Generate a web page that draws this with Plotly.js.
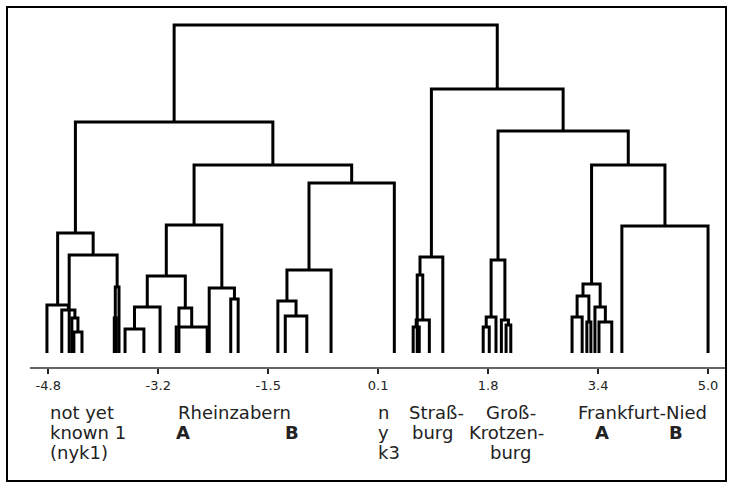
<!DOCTYPE html>
<html><head><meta charset="utf-8">
<script src="https://cdn.plot.ly/plotly-3.0.1.min.js"></script>
<style>
html,body{margin:0;padding:0;background:#fff;}
#wrap{position:relative;width:734px;height:490px;overflow:hidden;}
#chart{width:734px;height:490px;}
#frame{position:absolute;left:6px;top:6px;width:721px;height:476px;border:2px solid #000;box-sizing:border-box;pointer-events:none;}
</style></head><body>
<div id="wrap"><div id="chart"></div><div id="frame"></div></div>
<script>
// Leaf scores on the discriminant axis (left to right)
const leafScore = [-4.82,-4.60,-4.49,-4.45,-4.42,-4.30,-3.82,-3.79,-3.75,-3.66,-3.38,-3.14,-2.90,-2.86,-2.44,-2.41,-2.09,-1.98,
  -1.39,-1.28,-0.96,-0.60,0.34,0.62,0.68,0.71,0.86,1.06,1.66,1.75,1.85,1.93,2.00,2.07,
  2.98,3.13,3.20,3.26,3.32,3.38,3.57,3.72,5.00];
// Merges: children (leaf index, or leafCount + merge index) and fusion height
const mergeLeft  = [4,3,1,0,6,47,2,46, 9,51,12,13,52,16,15,55, 19,18,60,61,58,50, 23,65,24,67, 28,69,32,31,70, 34,36,74,39,38,76,41,79,73,68,64];
const mergeRight = [5,43,44,45,7,8,48,49, 10,11,14,53,54,17,56,57, 20,59,21,22,62,63, 25,26,66,27, 29,30,33,71,72, 35,37,75,40,77,78,42,80,81,82,83];
const mergeHeight= [1.60,2.67,3.28,3.66,2.67,5.03,7.47,9.15, 1.83,3.51,1.98,3.43,5.87,4.12,4.95,9.76, 2.82,3.96,6.33,12.96,14.33,17.61,
  1.98,2.52,5.95,7.32, 1.98,2.74,2.13,2.52,7.09, 2.74,2.36,4.34,2.36,3.51,5.26,9.68,14.33,16.92,20.12,25.0];
const tickValues = [-4.8,-3.167,-1.533,0.1,1.733,3.367,5.0];
const tickLabels = ['-4.8','-3.2','-1.5','0.1','1.8','3.4','5.0'];
const groupLabels = ['not yet','known 1','(nyk1)','Rheinzabern','A','B','n','y','k3','Straß-','burg','Groß-','Krotzen-','burg','Frankfurt-Nied','A','B'];

const nodeX = leafScore.slice();
const nodeH = leafScore.map(()=>0);
const xs = [], ys = [];
for (let k = 0; k < mergeHeight.length; k++) {
  const a = mergeLeft[k], b = mergeRight[k], h = mergeHeight[k];
  xs.push(nodeX[a], nodeX[a], nodeX[b], nodeX[b], null);
  ys.push(nodeH[a], h, h, nodeH[b], null);
  nodeX.push((nodeX[a] + nodeX[b]) / 2);
  nodeH.push(h);
}

const trace = {x: xs, y: ys, type: 'scatter', mode: 'lines', hoverinfo: 'skip',
  line: {color: '#000', width: 3}, cliponaxis: false};

// label placement: [x (axis units), y (paper), xanchor, bold]
const place = [
  [-4.80,-0.128,'left',false],[-4.80,-0.186,'left',false],[-4.80,-0.243,'left',false],
  [-2.90,-0.128,'left',false],[-2.80,-0.186,'center',true],[-1.18,-0.186,'center',true],
  [0.07,-0.128,'left',false],[0.07,-0.186,'left',false],[0.07,-0.243,'left',false],
  [0.53,-0.128,'left',false],[0.58,-0.186,'left',false],
  [2.07,-0.128,'center',false],[2.00,-0.186,'center',false],[2.06,-0.243,'center',false],
  [4.02,-0.128,'center',false],[3.43,-0.186,'center',true],[4.52,-0.186,'center',true]
];
const annotations = groupLabels.map((t,i)=>({
  text: place[i][3] ? '<b>'+t+'</b>' : t,
  x: place[i][0], y: place[i][1], xref:'x', yref:'paper',
  xanchor: place[i][2], yanchor:'middle', showarrow:false,
  font:{family:'DejaVu Sans, Arial, sans-serif', size:18, color:'#222'}
}));

const layout = {
  width: 734, height: 490,
  margin: {l:30, r:9, t:15, b:123, pad:0},
  paper_bgcolor:'#fff', plot_bgcolor:'#fff',
  showlegend:false,
  xaxis: {range:[-5.072,5.252], showgrid:false, zeroline:false, showline:true,
    linecolor:'#666', linewidth:2, ticks:'outside', ticklen:5, tickwidth:2, tickcolor:'#222',
    tickvals: tickValues, ticktext: tickLabels,
    tickfont:{family:'DejaVu Sans, Arial, sans-serif', size:13, color:'#222'}, fixedrange:true},
  yaxis: {range:[-1.067,25.76], visible:false, fixedrange:true},
  annotations: annotations
};
Plotly.newPlot('chart', [trace], layout, {displayModeBar:false, staticPlot:true});
</script>
</body></html>
